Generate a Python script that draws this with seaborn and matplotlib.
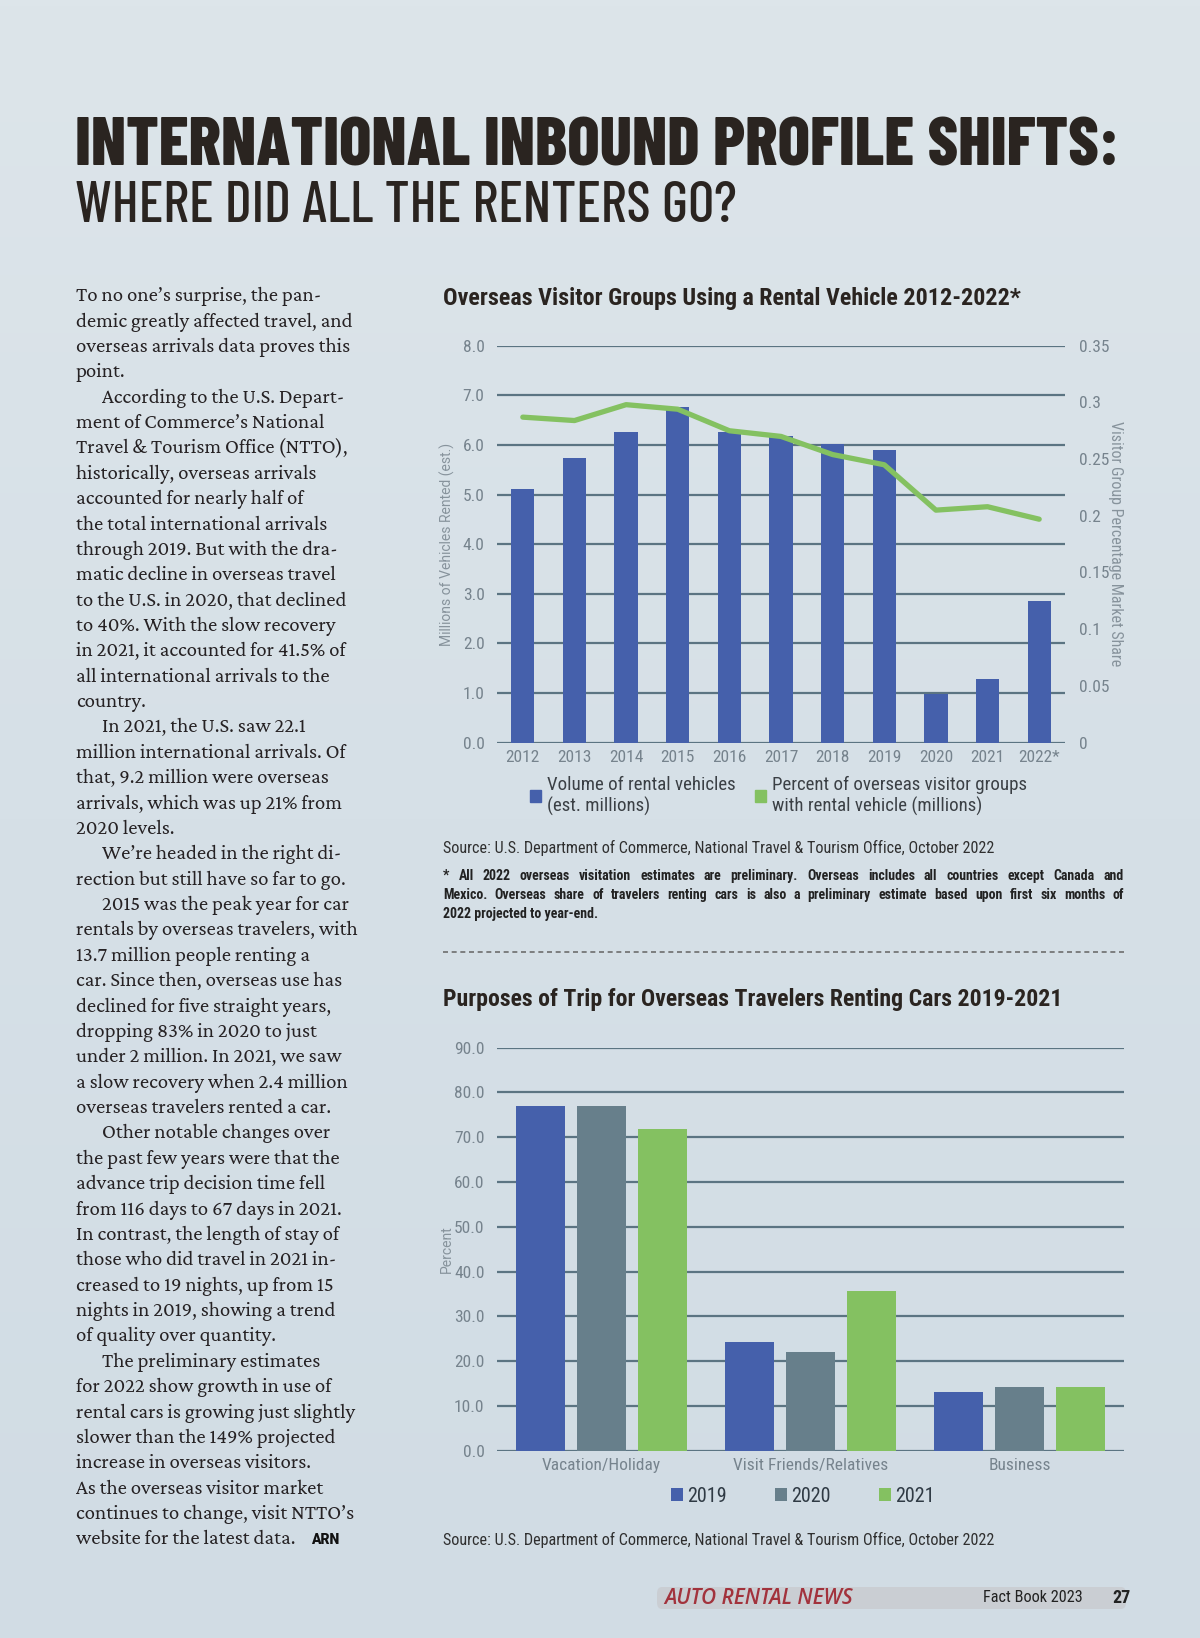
import numpy as np
import pandas as pd
import seaborn as sns
import matplotlib.pyplot as plt
from matplotlib.colors import LinearSegmentedColormap
from matplotlib.patches import FancyBboxPatch
from matplotlib.lines import Line2D

# ----------------------------
# Data
# ----------------------------
years = ['2012', '2013', '2014', '2015', '2016', '2017', '2018', '2019', '2020', '2021', '2022*']
rental_volume = [5.12, 5.73, 6.26, 6.76, 6.26, 6.17, 6.01, 5.89, 0.98, 1.29, 2.86]
visitor_share = [0.287, 0.284, 0.298, 0.294, 0.275, 0.270, 0.254, 0.245, 0.205, 0.208, 0.197]

purposes = ['Vacation/Holiday', 'Visit Friends/Relatives', 'Business']
trip_years = ['2019', '2020', '2021']
pct_2019 = [77.0, 24.3, 13.2]
pct_2020 = [77.0, 22.1, 14.3]
pct_2021 = [71.9, 35.7, 14.3]

left_ticks = [0, 1, 2, 3, 4, 5, 6, 7, 8]
right_ticks = [0, 0.05, 0.1, 0.15, 0.2, 0.25, 0.3, 0.35]
right_tick_labels = ['0', '0.05', '0.1', '0.15', '0.2', '0.25', '0.3', '0.35']
pct_ticks = [0, 10, 20, 30, 40, 50, 60, 70, 80, 90]

body_lines = [
    ("To no one’s surprise, the pan-", False),
    ("demic greatly affected travel, and", False),
    ("overseas arrivals data proves this", False),
    ("point.", False),
    ("According to the U.S. Depart-", True),
    ("ment of Commerce’s National", False),
    ("Travel & Tourism Office (NTTO),", False),
    ("historically, overseas arrivals", False),
    ("accounted for nearly half of", False),
    ("the total international arrivals", False),
    ("through 2019. But with the dra-", False),
    ("matic decline in overseas travel", False),
    ("to the U.S. in 2020, that declined", False),
    ("to 40%. With the slow recovery", False),
    ("in 2021, it accounted for 41.5% of", False),
    ("all international arrivals to the", False),
    ("country.", False),
    ("In 2021, the U.S. saw 22.1", True),
    ("million international arrivals. Of", False),
    ("that, 9.2 million were overseas", False),
    ("arrivals, which was up 21% from", False),
    ("2020 levels.", False),
    ("We’re headed in the right di-", True),
    ("rection but still have so far to go.", False),
    ("2015 was the peak year for car", True),
    ("rentals by overseas travelers, with", False),
    ("13.7 million people renting a", False),
    ("car. Since then, overseas use has", False),
    ("declined for five straight years,", False),
    ("dropping 83% in 2020 to just", False),
    ("under 2 million. In 2021, we saw", False),
    ("a slow recovery when 2.4 million", False),
    ("overseas travelers rented a car.", False),
    ("Other notable changes over", True),
    ("the past few years were that the", False),
    ("advance trip decision time fell", False),
    ("from 116 days to 67 days in 2021.", False),
    ("In contrast, the length of stay of", False),
    ("those who did travel in 2021 in-", False),
    ("creased to 19 nights, up from 15", False),
    ("nights in 2019, showing a trend", False),
    ("of quality over quantity.", False),
    ("The preliminary estimates", True),
    ("for 2022 show growth in use of", False),
    ("rental cars is growing just slightly", False),
    ("slower than the 149% projected", False),
    ("increase in overseas visitors.", False),
    ("As the overseas visitor market", False),
    ("continues to change, visit NTTO’s", False),
    ("website for the latest data.", False),
]

footnote_lines = [
    "* All 2022 overseas visitation estimates are preliminary. Overseas includes all countries except Canada and",
    "Mexico. Overseas share of travelers renting cars is also a preliminary estimate based upon first six months of",
    "2022 projected to year-end.",
]
source_text = "Source: U.S. Department of Commerce, National Travel & Tourism Office, October 2022"

# colours
BLUE = '#4560ab'
SLATE = '#677f8b'
GREEN = '#84c161'
GRID = '#5b7482'
TICK = '#76838d'
DARK = '#2a2420'

COND = ['Roboto Condensed', 'Liberation Sans', 'DejaVu Sans']
HEAD = ['Barlow Condensed', 'Roboto Condensed', 'DejaVu Sans']
SANS = ['Roboto', 'Liberation Sans', 'DejaVu Sans']
SERIF = ['Crimson Pro', 'Crimson Text', 'Liberation Serif', 'DejaVu Serif']

sns.set_theme(style="white")
plt.rcParams['font.family'] = COND

W, H = 1200, 1638
fig = plt.figure(figsize=(W / 100, H / 100), dpi=100)
renderer = fig.canvas.get_renderer()


def fx(x):
    return x / W


def fy(y):
    return 1 - y / H


def rect(x0, y0, x1, y1):
    return [fx(x0), fy(y1), (x1 - x0) / W, (y1 - y0) / H]


def fit_width(t, target):
    # scale the font so the text spans the width measured on the page
    w = t.get_window_extent(renderer).width
    t.set_fontsize(t.get_fontsize() * target / w)
    return t


def justified(x0, x1, y, line, **kw):
    words = line.split(' ')
    arts = [fig.text(0, fy(y), w, va='center', ha='left', **kw) for w in words]
    widths = [a.get_window_extent(renderer).width for a in arts]
    gap = (x1 - x0 - sum(widths)) / (len(words) - 1)
    x = x0
    for a, w in zip(arts, widths):
        a.set_x(fx(x))
        x += w + gap


# page background
bg = fig.add_axes([0, 0, 1, 1], zorder=-10)
grad = np.linspace(0, 1, 256).reshape(-1, 1)
bg_cmap = LinearSegmentedColormap.from_list('page', ['#dde5ea', '#d6e0e7', '#d1dce4'])
bg.imshow(grad, aspect='auto', extent=[0, 1, 0, 1], cmap=bg_cmap)
bg.axis('off')

# headline
t = fig.text(fx(75), fy(148), "INTERNATIONAL INBOUND PROFILE SHIFTS:", family=HEAD,
             fontsize=40, fontweight=800, color=DARK, va='center', ha='left')
fit_width(t, 1045)
t = fig.text(fx(75), fy(207), "WHERE DID ALL THE RENTERS GO?", family=HEAD,
             fontsize=30, fontweight=500, color=DARK, va='center', ha='left')
fit_width(t, 662)

# body column
y0, step = 296.6, 25.37
first = fig.text(fx(76), fy(y0), body_lines[0][0], family=SERIF, fontsize=13,
                 color='#262224', va='center', ha='left')
fit_width(first, 246)
body_size = first.get_fontsize()
for i, (line, indent) in enumerate(body_lines[1:], start=1):
    fig.text(fx(76 + (26 if indent else 0)), fy(y0 + i * step), line, family=SERIF,
             fontsize=body_size, color='#262224', va='center', ha='left')
fig.text(fx(311), fy(y0 + 49 * step), "ARN", family=['Roboto', 'DejaVu Sans'],
         fontsize=10, fontweight='black', color='#111111', va='center', ha='left')

# ----------------------------
# 1. Bars + line: rental vehicles
# ----------------------------
t = fig.text(fx(443), fy(298), "Overseas Visitor Groups Using a Rental Vehicle 2012-2022*",
             fontsize=17, fontweight='bold', color=DARK, va='center', ha='left')
fit_width(t, 577)

ax1 = fig.add_axes(rect(497, 345.7, 1065, 742.6))
ax1.set_facecolor('none')
df1 = pd.DataFrame({'year': years, 'volume': rental_volume, 'share': visitor_share})
sns.barplot(data=df1, x='year', y='volume', color=BLUE, saturation=1, width=0.45,
            linewidth=0, edgecolor='none', ax=ax1, zorder=3)
ax1.set_xlim(-0.5, len(years) - 0.5)
ax1.set_ylim(0, 8)
ax1.set_yticks(left_ticks)
ax1.set_yticklabels([f"{v:.1f}" for v in left_ticks])
ax1.yaxis.grid(True, color=GRID, lw=1.6, zorder=0)
ax1.set_axisbelow(True)
ax1.set_xlabel('')
ax1.set_ylabel('')
ax1.tick_params(axis='both', length=0, labelsize=12.5, labelcolor=TICK)
ax1.tick_params(axis='x', pad=5)
ax1.tick_params(axis='y', pad=9)
sns.despine(ax=ax1, left=True, bottom=True)

ax2 = ax1.twinx()
sns.lineplot(x=np.arange(len(years)), y=df1['share'], color=GREEN, lw=3.8, ax=ax2,
             solid_capstyle='round')
ax2.set_ylim(0, 0.35)
ax2.set_yticks(right_ticks)
ax2.set_yticklabels(right_tick_labels)
ax2.set_ylabel('')
ax2.tick_params(axis='y', length=0, labelsize=12.5, labelcolor=TICK, pad=10)
ax2.grid(False)
for s in ax2.spines.values():
    s.set_visible(False)

fig.text(fx(447), fy(544), "Millions of Vehicles Rented (est.)", family=SANS,
         fontsize=10, color='#87939c', rotation=90, va='center', ha='center')
fig.text(fx(1116), fy(544), "Visitor Group Percentage Market Share", family=COND,
         fontsize=11.5, color='#87939c', rotation=270, va='center', ha='center')

h_bar = plt.Rectangle((0, 0), 1, 1, color=BLUE)
h_line = plt.Rectangle((0, 0), 1, 1, color=GREEN)
fig.legend([h_bar, h_line],
           ["Volume of rental vehicles\n(est. millions)",
            "Percent of overseas visitor groups\nwith rental vehicle (millions)"],
           loc='upper left', bbox_to_anchor=(fx(530), fy(776)), ncol=2, frameon=False,
           fontsize=13.6, handlelength=0.6, handleheight=0.6, handletextpad=0.3,
           columnspacing=1.0, borderpad=0, borderaxespad=0, labelspacing=0,
           labelcolor='#3b4045')

t = fig.text(fx(443), fy(848), source_text, fontsize=11, color='#2f2f2f', va='center')
fit_width(t, 552)
for i, line in enumerate(footnote_lines):
    if i < 2:
        justified(443, 1124, 876 + i * 19, line, fontsize=10, fontweight='bold',
                  color='#222222')
    else:
        fig.text(fx(443), fy(876 + i * 19), line, fontsize=10, fontweight='bold',
                 color='#222222', va='center')

fig.add_artist(Line2D([fx(443), fx(1124)], [fy(952), fy(952)], color='#6d6d6d',
                      lw=1.2, linestyle=(0, (3, 2.2))))

# ----------------------------
# 2. Grouped bars: trip purposes
# ----------------------------
t = fig.text(fx(443), fy(999.5), "Purposes of Trip for Overseas Travelers Renting Cars 2019-2021",
             fontsize=17, fontweight='bold', color=DARK, va='center', ha='left')
fit_width(t, 621)

df2 = pd.DataFrame({
    'purpose': purposes * 3,
    'year': [y for y in trip_years for _ in purposes],
    'pct': pct_2019 + pct_2020 + pct_2021,
})
ax3 = fig.add_axes(rect(497, 1047.5, 1124, 1450.7))
ax3.set_facecolor('none')
sns.barplot(data=df2, x='purpose', y='pct', hue='year', palette=[BLUE, SLATE, GREEN],
            saturation=1, width=0.87, gap=0.19, linewidth=0, edgecolor='none',
            ax=ax3, zorder=3)
ax3.set_xlim(-0.5, len(purposes) - 0.5)
ax3.set_ylim(0, 90)
ax3.set_yticks(pct_ticks)
ax3.set_yticklabels([f"{v:.1f}" for v in pct_ticks])
ax3.yaxis.grid(True, color=GRID, lw=1.6, zorder=0)
ax3.set_axisbelow(True)
ax3.set_xlabel('')
ax3.set_ylabel('')
ax3.tick_params(axis='both', length=0, labelsize=12.5, labelcolor=TICK)
ax3.tick_params(axis='x', pad=5)
ax3.tick_params(axis='y', pad=9)
sns.despine(ax=ax3, left=True, bottom=True)

leg = ax3.get_legend()
handles = leg.legend_handles
labels = [t.get_text() for t in leg.get_texts()]
leg.remove()
fig.legend(handles, labels, loc='center', bbox_to_anchor=(fx(803), fy(1496)), ncol=3,
           frameon=False, fontsize=14.5, handlelength=0.6, handleheight=0.6,
           handletextpad=0.2, columnspacing=2.4, borderpad=0, labelcolor='#2f3a44')

fig.text(fx(447), fy(1249), "Percent", family=SANS, fontsize=10, color='#87939c',
         rotation=90, va='center', ha='center')
t = fig.text(fx(443), fy(1540), source_text, fontsize=11, color='#2f2f2f', va='center')
fit_width(t, 552)

# footer strip
fig.add_artist(FancyBboxPatch((fx(657), fy(1609)), fx(1126) - fx(657), (1609 - 1587) / H,
                              boxstyle='round,pad=0,rounding_size=0.004',
                              transform=fig.transFigure, facecolor='#c9ccd1',
                              edgecolor='none', alpha=0.85))
t = fig.text(fx(664), fy(1598), "AUTO RENTAL NEWS", family=['Open Sans', 'DejaVu Sans'],
             fontsize=12, fontweight=600, style='italic', color='#a2323c', va='center')
fit_width(t, 188)
t = fig.text(fx(983), fy(1598), "Fact Book 2023", fontsize=13, color='#222222', va='center')
fit_width(t, 100)
fig.text(fx(1112), fy(1598), "27", fontsize=13, fontweight='bold', color='#222222',
         va='center')

plt.savefig('out.png', dpi=100)
